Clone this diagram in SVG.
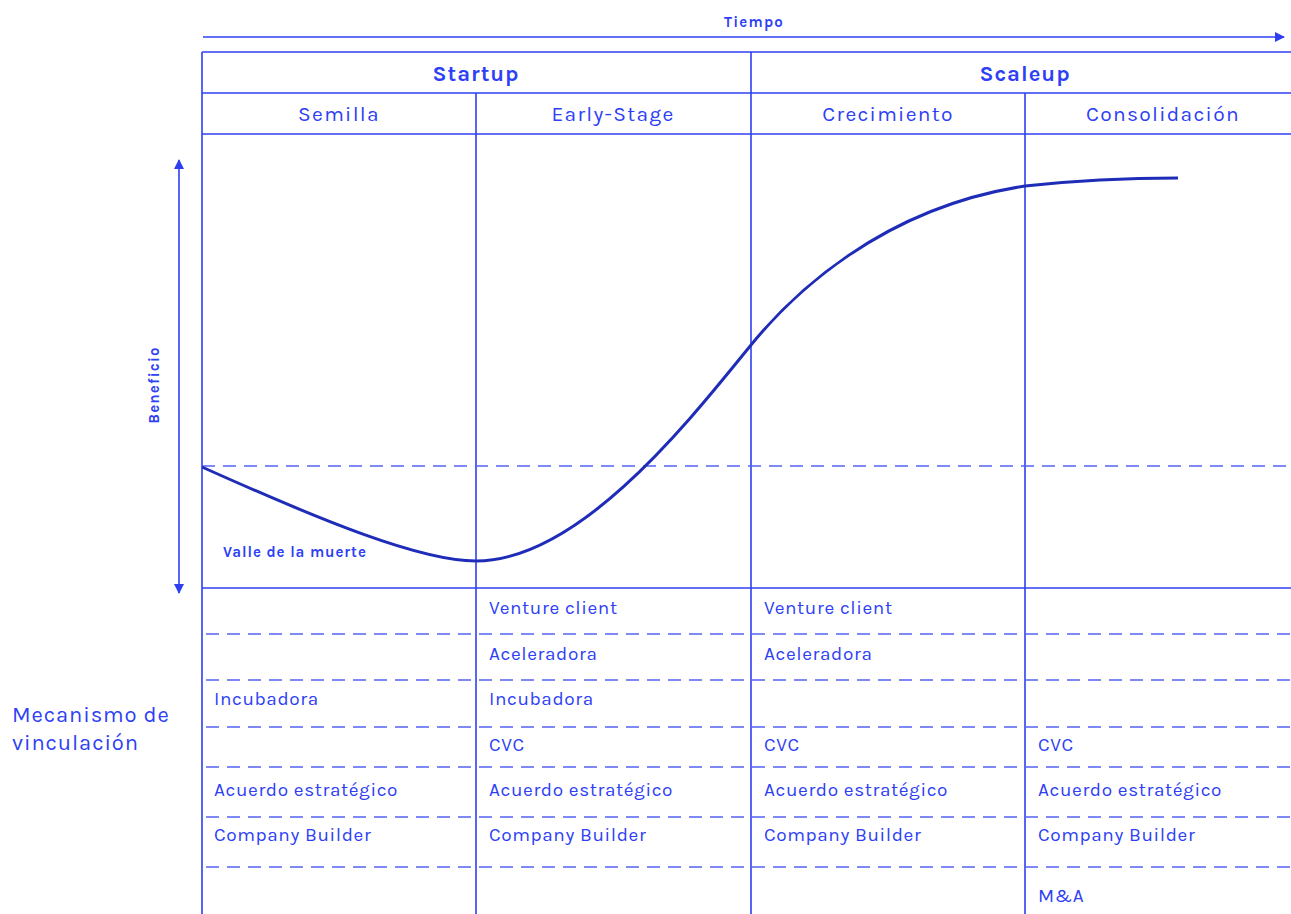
<svg xmlns="http://www.w3.org/2000/svg" width="1291" height="914" viewBox="0 0 1291 914">
<style>
.ln{stroke:#2f3ff0;stroke-width:1.6;fill:none}
.dl{stroke:#5563f2;stroke-width:1.6;fill:none;stroke-dasharray:13 8}
.t{font-family:"Karla","Noto Sans","Liberation Sans",sans-serif;fill:#2e3ff5}
.h{font-size:22px;font-weight:bold;text-anchor:middle;letter-spacing:1px}
.s{font-size:21px;text-anchor:middle;letter-spacing:1.3px}
.m{font-size:19px;letter-spacing:0.6px}
.b{font-size:15px;font-weight:bold;letter-spacing:1.2px}
</style>
<defs>
<marker id="ah" viewBox="0 0 10 10" refX="9" refY="5" markerWidth="10" markerHeight="10" markerUnits="userSpaceOnUse" orient="auto-start-reverse">
<path d="M0,0 L10,5 L0,10 z" fill="#2f3ff0"/>
</marker>
</defs>
<rect width="1291" height="914" fill="#ffffff"/>
<g id="grid">
<line class="ln" x1="202" y1="52" x2="1291" y2="52"/>
<line class="ln" x1="202" y1="93" x2="1291" y2="93"/>
<line class="ln" x1="202" y1="134" x2="1291" y2="134"/>
<line class="ln" x1="202" y1="588" x2="1291" y2="588"/>
<line class="ln" x1="202" y1="52" x2="202" y2="914"/>
<line class="ln" x1="476" y1="93" x2="476" y2="914"/>
<line class="ln" x1="751" y1="52" x2="751" y2="914"/>
<line class="ln" x1="1025" y1="93" x2="1025" y2="914"/>
<line class="dl" x1="202" y1="466" x2="1291" y2="466"/>
<line class="dl" x1="206" y1="634" x2="1291" y2="634"/>
<line class="dl" x1="206" y1="680" x2="1291" y2="680"/>
<line class="dl" x1="206" y1="727" x2="1291" y2="727"/>
<line class="dl" x1="206" y1="767" x2="1291" y2="767"/>
<line class="dl" x1="206" y1="817" x2="1291" y2="817"/>
<line class="dl" x1="206" y1="867" x2="1291" y2="867"/>
</g>
<g id="connectors">
<line class="ln" x1="203" y1="37" x2="1284" y2="37" marker-end="url(#ah)"/>
<line class="ln" x1="179" y1="160" x2="179" y2="593" marker-start="url(#ah)" marker-end="url(#ah)"/>
<path id="curve" d="M202,467 C320,520 420,561 476,561 C580,561 690,420 751,345 C791,296 880,208 1025,186 C1080,180 1130,178 1178,178" fill="none" stroke="#1f2cb8" stroke-width="3"/>
</g>
<g id="axis-labels">
<text class="t b" x="754" y="27" text-anchor="middle">Tiempo</text>
<text class="t b" x="159" y="385" text-anchor="middle" transform="rotate(-90 159 385)">Beneficio</text>
<text class="t" x="223" y="557" style="font-size:15px;font-weight:bold;letter-spacing:0.9px">Valle de la muerte</text>
</g>
<g id="headers">
<text class="t h" x="476" y="81">Startup</text>
<text class="t h" x="1025" y="81">Scaleup</text>
<text class="t s" x="339" y="121">Semilla</text>
<text class="t s" x="613" y="121">Early-Stage</text>
<text class="t s" x="888" y="121">Crecimiento</text>
<text class="t s" x="1163" y="121">Consolidación</text>
</g>
<g id="mecanismo-label">
<text class="t" x="12" y="722" style="font-size:22px;letter-spacing:0.9px">Mecanismo de</text>
<text class="t" x="12" y="750" style="font-size:22px;letter-spacing:0.9px">vinculación</text>
</g>
<g id="col-semilla">
<text class="t m" x="214" y="705">Incubadora</text>
<text class="t m" x="214" y="796">Acuerdo estratégico</text>
<text class="t m" x="214" y="841">Company Builder</text>
</g>
<g id="col-early">
<text class="t m" x="489" y="614">Venture client</text>
<text class="t m" x="489" y="660">Aceleradora</text>
<text class="t m" x="489" y="705">Incubadora</text>
<text class="t m" x="489" y="751">CVC</text>
<text class="t m" x="489" y="796">Acuerdo estratégico</text>
<text class="t m" x="489" y="841">Company Builder</text>
</g>
<g id="col-crecimiento">
<text class="t m" x="764" y="614">Venture client</text>
<text class="t m" x="764" y="660">Aceleradora</text>
<text class="t m" x="764" y="751">CVC</text>
<text class="t m" x="764" y="796">Acuerdo estratégico</text>
<text class="t m" x="764" y="841">Company Builder</text>
</g>
<g id="col-consolidacion">
<text class="t m" x="1038" y="751">CVC</text>
<text class="t m" x="1038" y="796">Acuerdo estratégico</text>
<text class="t m" x="1038" y="841">Company Builder</text>
<text class="t m" x="1038" y="902">M&amp;A</text>
</g>
</svg>
